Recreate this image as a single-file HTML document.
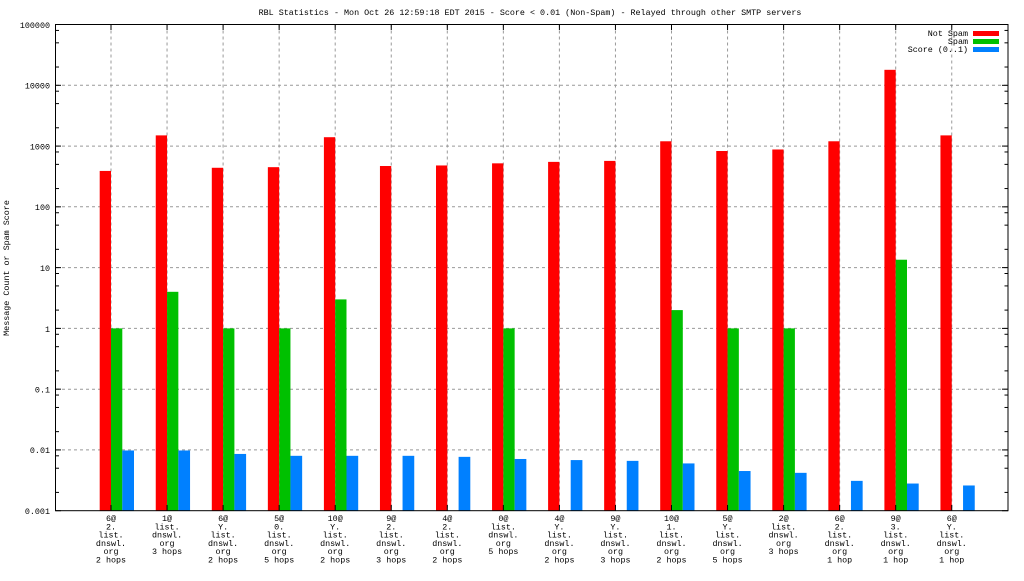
<!DOCTYPE html>
<html><head><meta charset="utf-8"><style>
body{margin:0;background:#fff}
svg text{font-family:"Liberation Mono","DejaVu Sans Mono",monospace;font-size:8.4px;fill:#000}
</style></head><body>
<svg width="1024" height="576" xmlns="http://www.w3.org/2000/svg">
<text x="530" y="15" text-anchor="middle">RBL Statistics - Mon Oct 26 12:59:18 EDT 2015 - Score &lt; 0.01 (Non-Spam) - Relayed through other SMTP servers</text>
<text transform="translate(9,268) rotate(-90)" text-anchor="middle">Message Count or Spam Score</text>
<g stroke="#999" stroke-dasharray="3,3" stroke-width="1">
<line x1="56" x2="1008" y1="85.3" y2="85.3"/><line x1="56" x2="1008" y1="146.1" y2="146.1"/>
<line x1="56" x2="1008" y1="206.8" y2="206.8"/><line x1="56" x2="1008" y1="267.6" y2="267.6"/>
<line x1="56" x2="1008" y1="328.4" y2="328.4"/><line x1="56" x2="1008" y1="389.2" y2="389.2"/>
<line x1="56" x2="1008" y1="449.9" y2="449.9"/>
</g>
<g id="vg" stroke="#999" stroke-dasharray="3,3"></g>
<g transform="translate(0,510.7) scale(1,-60.77)" id="bars"></g>
<g id="axes"></g>
<rect x="55.5" y="24.5" width="952.5" height="486.2" fill="none" stroke="#000" stroke-width="1"/>
<g text-anchor="end">
<text x="50" y="28">100000</text><text x="50" y="88.5">10000</text><text x="50" y="149.5">1000</text>
<text x="50" y="210">100</text><text x="50" y="271">10</text><text x="50" y="332">1</text>
<text x="50" y="392.5">0.1</text><text x="50" y="453">0.01</text><text x="50" y="514">0.001</text>
<text x="968" y="36">Not Spam</text><text x="968" y="44">Spam</text><text x="968" y="52">Score (0..1)</text>
</g>
<rect x="973" y="31" width="26" height="5" fill="#ff0000"/>
<rect x="973" y="39" width="26" height="5" fill="#00c000"/>
<rect x="973" y="47" width="26" height="5" fill="#0080ff"/>
<g id="labels" text-anchor="middle"></g>
</svg>
<script>
var red=[5.591,6.176,5.643,5.653,6.146,5.672,5.681,5.716,5.740,5.756,6.079,5.919,5.944,6.079,7.255,6.176];
var green=[3,3.602,3,3,3.477,0,0,3,0,0,3.301,3,3,0,4.130,0];
var blue=[0.991,0.991,0.934,0.903,0.903,0.903,0.886,0.851,0.833,0.820,0.778,0.653,0.623,0.491,0.447,0.415];
var labs=[["6@","2.","list.","dnswl.","org","2 hops"],["1@","list.","dnswl.","org","3 hops"],["6@","Y.","list.","dnswl.","org","2 hops"],["5@","0.","list.","dnswl.","org","5 hops"],["10@","Y.","list.","dnswl.","org","2 hops"],["9@","2.","list.","dnswl.","org","3 hops"],["4@","2.","list.","dnswl.","org","2 hops"],["0@","list.","dnswl.","org","5 hops"],["4@","Y.","list.","dnswl.","org","2 hops"],["9@","Y.","list.","dnswl.","org","3 hops"],["10@","1.","list.","dnswl.","org","2 hops"],["5@","Y.","list.","dnswl.","org","5 hops"],["2@","list.","dnswl.","org","3 hops"],["6@","2.","list.","dnswl.","org","1 hop"],["9@","3.","list.","dnswl.","org","1 hop"],["6@","Y.","list.","dnswl.","org","1 hop"]];
var NS="http://www.w3.org/2000/svg";
function el(p,t,a,txt){var e=document.createElementNS(NS,t);for(var k in a)e.setAttribute(k,a[k]);if(txt)e.textContent=txt;document.getElementById(p).appendChild(e);}
for(var i=0;i<16;i++){var c=111+i*56.05;
el("vg","line",{x1:c,x2:c,y1:24.5,y2:510.7});
el("bars","rect",{x:c-11.3,y:0,width:11.3,height:red[i],fill:"#ff0000"});
if(green[i])el("bars","rect",{x:c,y:0,width:11.3,height:green[i],fill:"#00c000"});
el("bars","rect",{x:c+11.3,y:0,width:11.7,height:blue[i],fill:"#0080ff"});
el("axes","line",{x1:c,x2:c,y1:24.5,y2:30,stroke:"#000"});
el("axes","line",{x1:c,x2:c,y1:510.7,y2:505,stroke:"#000"});
for(var j=0;j<labs[i].length;j++)el("labels","text",{x:c,y:521+j*8.3},labs[i][j]);}
for(var d=0;d<8;d++){var y0=510.7-d*60.77;
el("axes","line",{x1:55.5,x2:61,y1:y0,y2:y0,stroke:"#000"});el("axes","line",{x1:1008,x2:1002,y1:y0,y2:y0,stroke:"#000"});
[2,5,8].forEach(function(m){var y=y0-Math.log10(m)*60.77;el("axes","line",{x1:55.5,x2:59,y1:y,y2:y,stroke:"#000"});el("axes","line",{x1:1008,x2:1004.5,y1:y,y2:y,stroke:"#000"});});}
</script>
</body></html>
